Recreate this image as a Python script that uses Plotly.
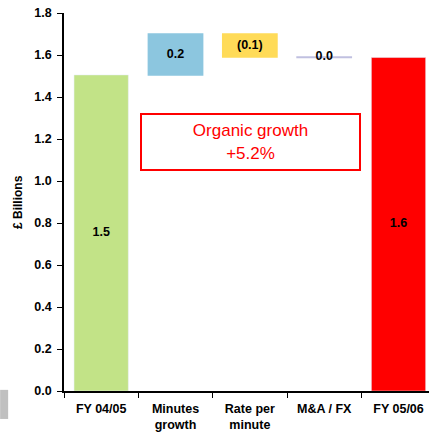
import plotly.graph_objects as go

# Revenue bridge, £ billions
categories = ["FY 04/05", "Minutes<br>growth", "Rate per<br>minute", "M&A / FX", "FY 05/06"]
opening_value = 1.505
step_names = ["Minutes<br>growth", "Rate per<br>minute", "M&A / FX"]
step_changes = [0.195, -0.11, -0.002]
closing_name = "FY 05/06"
y_ticks = [0.0, 0.2, 0.4, 0.6, 0.8, 1.0, 1.2, 1.4, 1.6, 1.8]
note_text = "Organic growth<br>+5.2%"

FONT = "Liberation Sans, Arial, sans-serif"
step_colors = ["#8cc6df", "#ffdb58", "#c0c0e0"]


def fmt(v):
    r = round(v, 1)
    return f"({abs(r):.1f})" if r < 0 else f"{abs(r):.1f}"


# running totals for the floating steps
bases, running = [], opening_value
for c in step_changes:
    bases.append(running)
    running += c
closing_value = running

fig = go.Figure()

# opening and closing totals
fig.add_bar(x=[categories[0]], y=[opening_value], marker_color="#c2e387",
            width=0.73, showlegend=False, hoverinfo="skip")
fig.add_bar(x=[closing_name], y=[closing_value], marker_color="#ff0000",
            width=0.73, showlegend=False, hoverinfo="skip")

# floating change bars
for name, b, c, col in zip(step_names, bases, step_changes, step_colors):
    fig.add_bar(x=[name], y=[c], base=[b], marker=dict(color=col, line=dict(color=col, width=1.5)),
                width=0.73, showlegend=False, hoverinfo="skip")

# value labels at the centre of each bar
lab_x = [categories[0]] + step_names + [closing_name]
lab_y = [opening_value / 2] + [b + c / 2 for b, c in zip(bases, step_changes)] + [closing_value / 2]
lab_t = [fmt(opening_value)] + [fmt(c) for c in step_changes] + [fmt(closing_value)]
fig.add_scatter(x=lab_x, y=lab_y, text=lab_t, mode="text", showlegend=False,
                textfont=dict(family=FONT, size=12.5, color="black", weight="bold"),
                hoverinfo="skip")

fig.update_layout(
    width=429, height=437,
    margin=dict(l=64, r=0, t=13, b=46),
    paper_bgcolor="white", plot_bgcolor="white",
    barmode="overlay",
    font=dict(family=FONT, size=12, color="black"),
    xaxis=dict(
        type="category", categoryorder="array", categoryarray=categories,
        range=[-0.5, 4.41], tickson="boundaries", ticks="outside", ticklen=5,
        tickcolor="black", showline=True, linecolor="black", linewidth=1.5,
        showgrid=False, zeroline=False, ticklabelstandoff=5,
        tickfont=dict(family=FONT, size=12.5, color="black", weight="bold"),
    ),
    yaxis=dict(
        range=[0, 1.8], tickvals=y_ticks, ticktext=[f"{v:.1f}" for v in y_ticks],
        ticks="outside", ticklen=5, tickcolor="black", showline=True,
        linecolor="black", linewidth=1.5, showgrid=False, zeroline=False,
        ticklabelstandoff=3,
        tickfont=dict(family=FONT, size=12.5, color="black", weight="bold"),
    ),
    annotations=[
        dict(text="£ Billions", xref="paper", yref="paper", x=0, y=0.5,
             xshift=-55, textangle=-90, showarrow=False,
             font=dict(family=FONT, size=12, color="black", weight="bold")),
        dict(text=note_text, xref="x", yref="y", x=2.01, y=1.186, showarrow=False,
             width=217, height=54, bordercolor="#ff0000", borderwidth=2, borderpad=0,
             bgcolor="white", font=dict(family=FONT, size=17, color="#ff0000")),
    ],
    shapes=[
        dict(type="rect", xref="paper", yref="paper", x0=-0.175, x1=-0.153,
             y0=-0.074, y1=0.003, fillcolor="#c0c0c0", line=dict(width=0),
             layer="above"),
    ],
)

fig.write_html("out.html")
